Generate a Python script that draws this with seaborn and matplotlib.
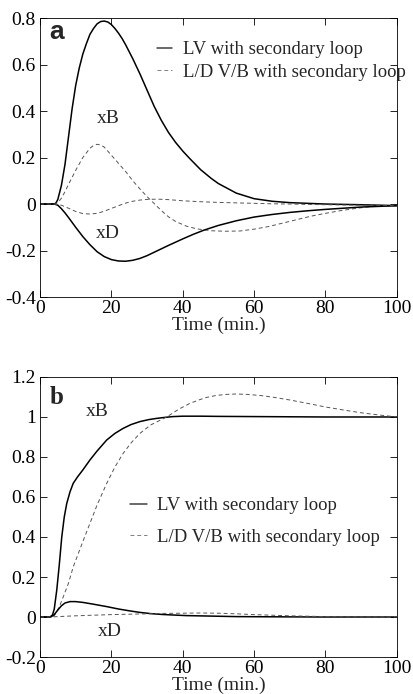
import numpy as np
import matplotlib
matplotlib.use("Agg")
import matplotlib.pyplot as plt
import seaborn as sns

# ---------------- Panel a data ----------------
a_lv_xB_t = [0, 2, 4, 4.5, 5, 6, 7, 8, 9, 10, 11, 12, 13, 14, 15, 16, 17, 18, 19, 20, 21, 22, 23, 24, 26, 28, 30, 32, 34, 36, 38, 40, 42, 45, 48, 50, 55, 60, 65, 70, 75, 80, 90, 100]
a_lv_xB_y = [0, 0, 0.0, 0.005, 0.02, 0.08, 0.17, 0.29, 0.41, 0.51, 0.585, 0.645, 0.69, 0.73, 0.755, 0.775, 0.785, 0.787, 0.783, 0.772, 0.755, 0.735, 0.712, 0.685, 0.625, 0.56, 0.49, 0.42, 0.36, 0.308, 0.265, 0.228, 0.195, 0.148, 0.11, 0.088, 0.047, 0.023, 0.012, 0.006, 0.003, 0.0, -0.003, -0.007]

a_lv_xD_t = [0, 2, 4, 5, 6, 7, 8, 10, 12, 14, 16, 18, 20, 22, 24, 26, 28, 30, 33, 36, 40, 43, 46, 50, 55, 60, 65, 70, 75, 80, 85, 90, 95, 100]
a_lv_xD_y = [0, 0, 0.0, -0.005, -0.02, -0.038, -0.058, -0.1, -0.14, -0.175, -0.205, -0.226, -0.239, -0.245, -0.246, -0.242, -0.234, -0.222, -0.2, -0.178, -0.15, -0.13, -0.112, -0.092, -0.072, -0.056, -0.045, -0.036, -0.029, -0.023, -0.018, -0.013, -0.01, -0.007]

a_ld_xB_t = [0, 2, 4, 5, 6, 7, 8, 9, 10, 12, 14, 15, 16, 17, 18, 20, 22, 24, 26, 28, 30, 32, 34, 36, 38, 41, 44, 48, 52, 56, 60, 64, 68, 72, 76, 80, 84, 88, 92, 96, 100]
a_ld_xB_y = [0, 0, 0.0, 0.006, 0.025, 0.053, 0.085, 0.115, 0.145, 0.2, 0.24, 0.252, 0.257, 0.254, 0.245, 0.21, 0.175, 0.14, 0.1, 0.065, 0.032, 0.002, -0.028, -0.055, -0.075, -0.095, -0.107, -0.115, -0.117, -0.116, -0.108, -0.097, -0.082, -0.067, -0.052, -0.04, -0.029, -0.02, -0.012, -0.008, -0.007]

a_ld_xD_t = [0, 2, 4, 6, 8, 10, 12, 14, 16, 18, 20, 22, 24, 26, 28, 30, 33, 36, 40, 45, 50, 55, 60, 65, 70, 80, 90, 100]
a_ld_xD_y = [0, 0, 0.0, -0.005, -0.018, -0.032, -0.041, -0.043, -0.04, -0.031, -0.019, -0.007, 0.004, 0.012, 0.017, 0.02, 0.021, 0.019, 0.014, 0.01, 0.007, 0.005, 0.003, 0.001, 0.0, -0.003, -0.005, -0.006]

# ---------------- Panel b data ----------------
b_lv_xB_t = [0, 2, 2.8, 3.5, 4, 4.7, 5.4, 6.1, 6.8, 7.5, 8.4, 9.3, 10.5, 12, 14, 16, 18.7, 21, 23.3, 25.5, 28, 30.5, 32.7, 35, 37.3, 40, 45, 50, 60, 70, 80, 90, 100]
b_lv_xB_y = [0, 0, 0.0, 0.01, 0.04, 0.135, 0.26, 0.4, 0.5, 0.568, 0.625, 0.668, 0.7, 0.735, 0.785, 0.83, 0.885, 0.918, 0.943, 0.962, 0.977, 0.987, 0.993, 0.998, 1.002, 1.004, 1.004, 1.003, 1.002, 1.001, 1.0, 1.0, 1.0]

b_ld_xB_t = [0, 3, 3.7, 4.5, 5.5, 6.5, 8, 9.3, 11, 12.5, 14, 16, 18.7, 21, 23.3, 25.5, 28, 31, 35.5, 39, 42, 44.5, 46.7, 49.5, 52.3, 55, 58, 62, 66, 70, 75, 80, 85, 90, 95, 100]
b_ld_xB_y = [0, 0, 0.0, 0.02, 0.055, 0.1, 0.17, 0.25, 0.33, 0.4, 0.468, 0.56, 0.668, 0.75, 0.818, 0.87, 0.918, 0.96, 1.0, 1.04, 1.068, 1.085, 1.098, 1.108, 1.113, 1.115, 1.113, 1.107, 1.097, 1.085, 1.068, 1.05, 1.035, 1.021, 1.01, 1.0]

b_lv_xD_t = [0, 2, 3, 4, 5, 6, 7, 8.4, 10, 12, 15, 18.7, 22, 25, 28, 31, 34, 37.3, 41, 46.7, 55, 65, 80, 100]
b_lv_xD_y = [0, 0, 0.0, 0.012, 0.035, 0.056, 0.07, 0.077, 0.077, 0.073, 0.064, 0.052, 0.04, 0.031, 0.023, 0.017, 0.013, 0.01, 0.007, 0.005, 0.002, 0.001, 0.0, 0.0]

b_ld_xD_t = [0, 3, 5, 10, 15, 20, 25, 30, 35, 40, 45, 50, 55, 60, 65, 70, 75, 80, 90, 100]
b_ld_xD_y = [0, 0, 0.002, 0.006, 0.009, 0.012, 0.014, 0.016, 0.018, 0.019, 0.02, 0.019, 0.016, 0.012, 0.009, 0.006, 0.004, 0.002, 0.0, 0.0]

a_yticks = [-0.4, -0.2, 0, 0.2, 0.4, 0.6, 0.8]
a_ytick_labels = ["-0.4", "-0.2", "0", "0.2", "0.4", "0.6", "0.8"]
b_yticks = [-0.2, 0, 0.2, 0.4, 0.6, 0.8, 1.0, 1.2]
b_ytick_labels = ["-0.2", "0", "0.2", "0.4", "0.6", "0.8", "1", "1.2"]
xticks = [0, 20, 40, 60, 80, 100]
xtick_labels = ["0", "20", "40", "60", "80", "100"]

legend_labels = ["LV with secondary loop", "L/D V/B with secondary loop"]

sns.set_style("ticks")
plt.rcParams["font.family"] = ["Liberation Serif", "DejaVu Serif"]

fig = plt.figure(figsize=(4.14, 6.94), dpi=100)
ax_a = fig.add_axes([0.0966, 0.572, 0.862, 0.402])
ax_b = fig.add_axes([0.0966, 0.0533, 0.862, 0.4035])

solid_kw = dict(color="black", linewidth=1.1, linestyle="-")
dash_kw = dict(color="#555555", linewidth=0.7, dashes=(4, 3))
FS = 14
LFS = 13.5


def style_axes(ax, yticks, ylabels, ylim):
    ax.set_xlim(0, 100)
    ax.set_ylim(*ylim)
    ax.set_xticks(xticks)
    ax.set_xticklabels(xtick_labels)
    ax.set_yticks(yticks)
    ax.set_yticklabels(ylabels)
    ax.tick_params(direction="in", top=True, right=True, length=5, width=0.6,
                   labelsize=FS, pad=3, colors="black")
    ax.tick_params(axis="x", pad=2)
    for s in ax.spines.values():
        s.set_visible(True)
        s.set_linewidth(0.6)
        s.set_color("black")
    ax.set_xlabel("Time (min.)", fontsize=FS, labelpad=0)
    ax.set_ylabel("")


def style_legend(leg):
    for h in leg.legend_handles:
        h.set_alpha(0.75)


# Panel a
sns.lineplot(x=a_lv_xB_t, y=a_lv_xB_y, ax=ax_a, label=legend_labels[0], sort=False, **solid_kw)
sns.lineplot(x=a_ld_xB_t, y=a_ld_xB_y, ax=ax_a, label=legend_labels[1], sort=False, **dash_kw)
sns.lineplot(x=a_lv_xD_t, y=a_lv_xD_y, ax=ax_a, sort=False, **solid_kw)
sns.lineplot(x=a_ld_xD_t, y=a_ld_xD_y, ax=ax_a, sort=False, **dash_kw)
style_axes(ax_a, a_yticks, a_ytick_labels, (-0.4, 0.8))
ax_a.text(19, 0.37, "xB", fontsize=FS, ha="center", va="center")
ax_a.text(19, -0.125, "xD", fontsize=FS, ha="center", va="center")
ax_a.text(0.026, 0.95, "a", transform=ax_a.transAxes, fontsize=19, fontweight="bold",
          family=["Liberation Sans", "DejaVu Sans"], ha="left", va="center")
leg_a = ax_a.legend(loc="upper left", bbox_to_anchor=(157 / 414, 1 - 41 / 694),
                    bbox_transform=fig.transFigure, frameon=False, fontsize=LFS,
                    handlelength=0.8, handletextpad=0.6, labelspacing=0.3,
                    borderaxespad=0, borderpad=0)
style_legend(leg_a)

# Panel b
sns.lineplot(x=b_lv_xB_t, y=b_lv_xB_y, ax=ax_b, label=legend_labels[0], sort=False, **solid_kw)
sns.lineplot(x=b_ld_xB_t, y=b_ld_xB_y, ax=ax_b, label=legend_labels[1], sort=False, **dash_kw)
sns.lineplot(x=b_lv_xD_t, y=b_lv_xD_y, ax=ax_b, sort=False, **solid_kw)
sns.lineplot(x=b_ld_xD_t, y=b_ld_xD_y, ax=ax_b, sort=False, **dash_kw)
style_axes(ax_b, b_yticks, b_ytick_labels, (-0.2, 1.2))
ax_b.text(16, 1.027, "xB", fontsize=FS, ha="center", va="center")
ax_b.text(19.5, -0.07, "xD", fontsize=FS, ha="center", va="center")
ax_b.text(0.026, 0.925, "b", transform=ax_b.transAxes, fontsize=18, fontweight="bold",
          ha="left", va="center")
leg_b = ax_b.legend(loc="upper left", bbox_to_anchor=(130 / 414, 1 - 497 / 694),
                    bbox_transform=fig.transFigure, frameon=False, fontsize=LFS,
                    handlelength=0.9, handletextpad=0.55, labelspacing=0.78,
                    borderaxespad=0, borderpad=0)
style_legend(leg_b)

fig.savefig("out.png", dpi=100)
